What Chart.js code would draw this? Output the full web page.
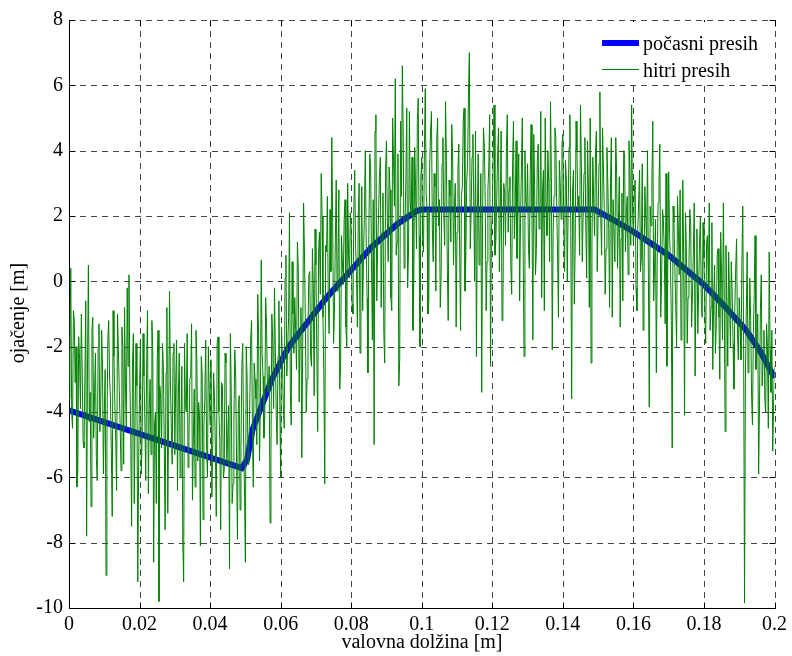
<!DOCTYPE html>
<html>
<head>
<meta charset="utf-8">
<script src="https://cdn.jsdelivr.net/npm/chart.js@4.4.1/dist/chart.umd.min.js"></script>
<style>
  html, body { margin: 0; padding: 0; background: #fff; }
  #wrap { width: 792px; height: 656px; }
</style>
</head>
<body>
<div id="wrap"><canvas id="chart" width="792" height="656"></canvas></div>
<script>
// počasni presih (debela modra črta)
const slowX = [0, 0.049, 0.0505, 0.052, 0.0575, 0.0623, 0.073, 0.0858, 0.093, 0.0985, 0.1, 0.149, 0.154, 0.16, 0.17, 0.18, 0.186, 0.192, 0.196, 0.2];
const slowY = [-3.95, -5.72, -5.45, -4.55, -3.0, -2.0, -0.5, 1.05, 1.75, 2.15, 2.2, 2.2, 1.9, 1.52, 0.8, -0.1, -0.78, -1.5, -2.15, -2.95];

// hitri presih: vzorci na 0.0005 m (A) in vmesni vzorci zamaknjeni za 0.00025 m (B)
const fastStep = 0.0005;
const fastA = [
  -3.6, 0.4, -4.5, -1.2, -2.0, -5.8, -2.4, -1.0, -4.9, -3.0, -7.8, 0.5, -3.4, -1.5, -4.8, -2.2, -6.1, -1.3, -3.7, -2.6,
  -4.1, -9.0, -1.8, -2.9, -5.2, -0.9, -3.8, -6.4, -2.1, -4.4, -1.4, -5.6, -3.1, -0.2, 0.2, -4.7, -2.5, -6.8, -1.9, -9.2,
  -3.3, -5.9, -1.6, -4.2, -2.7, -6.5, -3.0, -1.2, -8.6, -4.0, -2.4, -9.8, -3.6, -1.9, -5.0, -2.8, -7.1, -0.3, -4.5, -2.2,
  -5.3, -1.8, -3.5, -6.0, -2.6, -9.2, -3.8, -1.6, -4.9, -2.9, -6.7, -3.3, -1.5, -5.5, -4.1, -2.3, -7.3, -3.6, -5.0, -2.0,
  -4.4, -6.6, -2.8, -5.2, -1.9, -4.0, -7.6, -3.2, -5.8, -2.5, -4.7, -8.8, -3.4, -6.2, -2.1, -5.5, -3.9, -7.0, -2.6, -4.8,
  -8.6, -3.0, -5.2, -1.8, -4.6, -2.5, -3.6, -0.4, -5.5, 0.65, -2.9, -4.2, -1.3, -3.3, -7.4, -1.0, -3.9, -2.1, -5.0, -0.6,
  -6.0, -2.5, -4.5, 0.8, -2.0, 2.1, -4.4, -1.0, -0.5, -2.7, 0.4, -1.6, -5.4, 2.4, -1.2, -3.0, 0.2, -2.3, 1.0, -3.5,
  0.5, -4.6, 1.5, 3.3, -1.1, -6.2, 0.9, -0.6, 2.2, 4.4, -1.9, 1.2, -0.3, 2.8, -2.6, 0.6, 1.9, -1.4, 3.0, 0.1,
  1.6, -1.0, 3.4, 0.3, 2.0, -2.2, 2.9, 0.8, 4.0, -0.5, 1.4, 3.6, -1.8, -5.0, 5.1, 1.1, 3.2, -0.8, 2.7, -2.5,
  4.3, 0.6, 2.8, -0.9, 3.7, 6.2, 1.2, -3.2, 4.9, 6.6, 0.4, 3.1, -0.2, 5.2, 2.0, -1.5, 4.1, 1.0, 5.6, -2.0,
  3.8, 0.9, 5.9, 2.2, -0.6, 4.6, 1.6, 3.3, -0.3, 5.0, 2.5, 0.2, 4.4, 1.1, 3.7, -1.2, 2.6, 4.8, 0.5, 3.0,
  1.5, 4.2, -1.5, 2.9, 5.3, 0.8, 3.6, 7.0, 2.1, 4.5, 0.0, -2.3, 3.9, 1.3, -3.4, 4.7, 2.4, 0.6, 3.5, -2.6,
  2.0, 5.4, 1.2, 3.8, 0.3, 4.6, -0.9, 2.7, 4.1, 1.5, 3.2, -0.4, 4.9, 2.2, 0.7, 3.9, 1.8, 5.0, -2.3, 2.5,
  3.6, 0.4, 4.8, -1.8, 2.9, 1.0, 4.2, 2.0, -0.5, 3.4, 5.0, 1.4, 3.0, 5.5, -2.1, 2.6, 4.4, 0.9, 3.7, 1.9,
  4.5, 0.3, 3.1, 2.2, 5.1, -3.6, 3.4, 1.2, 4.0, 2.6, 5.4, 0.6, 3.3, 1.7, 4.3, -0.8, -2.5, 3.8, 1.4, 4.6,
  2.0, 5.8, 0.8, 3.5, -0.4, 4.1, 1.6, 3.0, -1.1, 2.5, 4.4, 0.4, 3.2, 1.3, -0.6, 3.9, 2.1, 0.2, 3.4, 5.4,
  1.2, 3.1, -0.9, 2.5, 0.3, 3.6, -0.2, 2.0, 4.0, -3.85, 1.7, 4.9, 0.5, -2.8, 2.4, 4.2, 0.1, 1.9, -1.3, -2.6,
  3.35, 0.6, -5.1, 1.8, -0.7, 2.6, 0.2, -1.8, 3.1, -4.1, 1.1, -0.5, 2.2, -1.4, 0.9, -2.9, 1.6, -0.2, 2.0, -1.1,
  0.7, -1.9, 1.4, 2.4, -0.8, -2.7, 0.5, -1.3, 1.0, -3.0, 0.2, 2.4, -4.6, -0.6, 0.9, -2.0, -0.3, -3.3, 0.4, -1.6,
  -0.5, -2.4, 2.3, -9.85, -1.0, -2.8, 0.1, -3.5, -1.6, 1.4, -2.2, -5.9, -0.9, -3.2, -1.5, -4.0, -2.0, 0.9, -3.4, -5.2,
  -2.6
];
const fastB = [
  -2.2, -4.0, -0.9, -3.1, -6.3, -1.7, -3.9, -2.8, -5.1, -0.6, -2.5, -4.3, -6.9, -1.1, -3.4, -5.4, -2.0, -4.6, -1.5, -5.9,
  -2.7, -5.0, -1.2, -3.6, -7.2, -2.3, -4.9, -1.0, -3.3, -5.8, -2.0, -0.8, -4.5, -2.6, -3.0, -7.5, -1.6, -4.0, -3.2, -5.6,
  -1.8, -4.7, -2.9, -6.1, -0.9, -3.9, -5.3, -2.1, -4.4, -6.8, -1.5, -3.2, -5.1, -2.6, -7.6, -0.8, -4.2, -3.0, -5.6, -1.9,
  -3.1, -6.4, -2.2, -4.5, -7.9, -1.9, -4.0, -5.7, -3.0, -1.3, -4.8, -6.3, -2.4, -3.7, -8.1, -2.8, -4.4, -1.8, -6.0, -3.3,
  -2.4, -5.0, -3.6, -7.2, -1.7, -4.9, -3.1, -6.0, -2.2, -5.6, -3.8, -1.6, -6.8, -4.3, -2.9, -7.9, -3.5, -5.1, -1.9, -6.4,
  -2.0, -5.6, -3.7, -1.2, -6.3, -3.0, -5.0, -1.6, -3.9, -2.2, -4.8, -0.5, -3.4, -2.6, -5.3, -1.8, -0.2, -4.1, -2.3, -3.6,
  -1.4, -3.8, 0.1, -2.9, -1.1, -3.4, 0.6, -2.2, -1.5, 1.2, -3.7, -0.8, -2.0, 0.9, -4.0, -1.3, 0.3, -2.6, -0.1, 1.6,
  -2.2, 0.9, -0.4, 2.0, -2.9, 1.1, 2.6, -1.6, 0.3, 1.8, -0.9, 3.1, 0.5, -3.3, 1.4, -0.1, 2.5, -2.0, 0.8, 2.1,
  -0.7, 2.3, 1.0, -1.4, 3.0, 0.4, -0.9, 2.1, 1.3, -2.8, 3.9, 0.7, 2.5, 4.6, -0.6, 2.0, 3.8, 1.5, -1.6, 3.4,
  1.8, 3.5, -0.5, 5.0, 2.3, 0.8, 3.9, -2.4, 2.6, 4.4, 1.7, 5.3, 0.9, 2.4, 3.8, 0.1, 2.9, 4.9, 1.4, 3.2,
  1.3, 4.0, 2.7, -1.0, 3.5, 5.2, 0.6, 2.9, 4.3, 1.7, -0.8, 3.6, 2.0, 5.5, 0.4, 3.1, 1.2, 3.9, 2.3, -1.4,
  3.4, 0.9, 2.6, 4.9, -0.3, 3.1, 5.8, 1.0, 3.8, 2.4, 4.6, 1.9, 0.5, 3.3, 2.0, 4.1, -0.9, 2.8, 5.1, 1.6,
  3.9, 0.8, 2.5, 4.7, 1.9, -1.2, 3.0, 1.1, 5.1, 2.8, 0.5, 3.6, 1.3, 4.3, 2.9, -0.6, 3.4, 0.9, 4.0, 2.2,
  1.0, 3.3, 2.1, 4.5, 0.2, 3.7, 1.6, 5.2, 2.8, -0.9, 2.3, 4.0, 0.6, 3.2, 1.5, 4.7, 2.3, -1.1, 3.0, 4.2,
  1.8, 3.7, 0.0, 4.1, 1.5, 2.7, -0.7, 4.9, 2.2, 0.8, 3.6, 2.0, 4.4, 0.1, 2.9, 5.0, 1.1, 2.4, 3.9, 0.3,
  3.6, 1.9, 4.7, 2.2, 1.0, 3.0, -0.8, 4.4, 2.5, 0.6, 3.3, 1.8, -1.4, 2.7, 4.0, 0.9, 2.6, 4.3, 1.1, 2.3,
  2.7, -0.2, 1.6, 3.4, 0.7, -1.5, 2.9, 1.2, 0.2, 2.3, 3.1, -0.6, 1.9, 0.6, 3.0, -1.1, 2.2, 0.9, 3.3, 0.4,
  1.5, -1.2, 2.3, 0.4, -2.0, 1.6, 2.8, -0.9, 0.8, 2.1, -1.9, 0.5, 1.7, -0.4, 2.4, 0.1, -1.6, 1.2, -0.7, 1.8,
  -0.9, 1.2, -0.2, -1.5, 1.8, -0.6, -2.2, 0.8, -1.1, 1.5, -1.8, -0.3, 1.1, -2.6, -0.5, 0.6, -1.9, -0.8, 1.3, -2.4,
  -1.3, 0.5, -1.9, -3.0, 0.9, -2.3, -1.2, -4.4, -0.4, -2.7, -1.0, -3.8, 0.2, -2.5, -3.6, -1.3, -4.5, -2.1, -1.5, -3.7
];

const xTicks = [0, 0.02, 0.04, 0.06, 0.08, 0.1, 0.12, 0.14, 0.16, 0.18, 0.2];
const yTicks = [-10, -8, -6, -4, -2, 0, 2, 4, 6, 8];

const FONT = '"Liberation Serif", "Times New Roman", serif';

const slowData = slowX.map((x, i) => ({ x: x, y: slowY[i] }));
const fastData = [];
fastA.forEach((y, i) => {
  fastData.push({ x: i * fastStep, y: y });
  if (i < fastB.length) fastData.push({ x: i * fastStep + fastStep / 2, y: fastB[i] });
});

// mreža, oznake in okvir v slogu MATLAB
const gridPlugin = {
  id: 'matlabGrid',
  beforeDatasetsDraw(chart) {
    const { ctx, chartArea: a, scales } = chart;
    const xs = scales.x, ys = scales.y;
    ctx.save();
    ctx.lineWidth = 1;
    ctx.strokeStyle = '#444';
    ctx.setLineDash([6, 5]);
    xTicks.forEach(v => {
      if (v === 0) return;
      const px = Math.round(xs.getPixelForValue(v)) + 0.5;
      ctx.beginPath(); ctx.moveTo(px, a.top); ctx.lineTo(px, a.bottom); ctx.stroke();
    });
    yTicks.forEach(v => {
      if (v === -10) return;
      const py = Math.round(ys.getPixelForValue(v)) + 0.5;
      ctx.beginPath(); ctx.moveTo(a.left, py); ctx.lineTo(a.right, py); ctx.stroke();
    });
    ctx.setLineDash([]);
    ctx.strokeStyle = '#000';
    const L = Math.round(a.left) + 0.5, B = Math.round(a.bottom) + 0.5;
    const T = Math.round(a.top) + 0.5, R = Math.round(a.right) + 0.5;
    ctx.beginPath();
    ctx.moveTo(L, T); ctx.lineTo(L, B); ctx.lineTo(R, B);
    xTicks.forEach(v => {
      const px = Math.round(xs.getPixelForValue(v)) + 0.5;
      ctx.moveTo(px, B); ctx.lineTo(px, B - 6);
      ctx.moveTo(px, T); ctx.lineTo(px, T + 6);
    });
    yTicks.forEach(v => {
      const py = Math.round(ys.getPixelForValue(v)) + 0.5;
      ctx.moveTo(L, py); ctx.lineTo(L + 6, py);
      ctx.moveTo(R, py); ctx.lineTo(R - 6, py);
    });
    ctx.stroke();
    ctx.restore();
  },
  afterDatasetsDraw(chart) {
    const { ctx } = chart;
    ctx.save();
    // legenda
    ctx.fillStyle = '#fff';
    ctx.fillRect(597, 22, 178, 61);
    ctx.lineCap = 'butt';
    ctx.strokeStyle = '#0000ff';
    ctx.lineWidth = 6;
    ctx.beginPath(); ctx.moveTo(602, 43); ctx.lineTo(639, 43); ctx.stroke();
    ctx.strokeStyle = '#008000';
    ctx.lineWidth = 1;
    ctx.beginPath(); ctx.moveTo(602, 69.5); ctx.lineTo(639, 69.5); ctx.stroke();
    ctx.fillStyle = '#000';
    ctx.font = '20px ' + FONT;
    ctx.textAlign = 'left';
    ctx.textBaseline = 'alphabetic';
    ctx.fillText('počasni presih', 643, 50);
    ctx.fillText('hitri presih', 643, 77);
    // naslova osi
    ctx.textAlign = 'center';
    ctx.fillText('valovna dolžina [m]', 422, 648);
    ctx.translate(24, 313);
    ctx.rotate(-Math.PI / 2);
    ctx.fillText('ojačenje [m]', 0, 0);
    ctx.restore();
  }
};

new Chart(document.getElementById('chart'), {
  type: 'line',
  data: {
    datasets: [
      {
        label: 'počasni presih',
        data: slowData,
        borderColor: '#0000ff',
        borderWidth: 6,
        pointRadius: 0,
        tension: 0,
        order: 1
      },
      {
        label: 'hitri presih',
        data: fastData,
        borderColor: '#008000',
        borderWidth: 1,
        pointRadius: 0,
        tension: 0,
        order: 0
      }
    ]
  },
  options: {
    responsive: false,
    animation: false,
    layout: { padding: { top: 20, right: 14, left: 0, bottom: 0 } },
    plugins: {
      legend: { display: false },
      tooltip: { enabled: false }
    },
    scales: {
      x: {
        type: 'linear',
        min: 0,
        max: 0.2,
        afterBuildTicks: s => { s.ticks = xTicks.map(v => ({ value: v })); },
        afterFit: s => { s.height = 48; },
        grid: { display: false, drawTicks: false },
        border: { display: false },
        ticks: {
          color: '#000',
          padding: 5,
          maxRotation: 0,
          font: { family: FONT, size: 20 },
          callback: v => String(+(+v).toFixed(4))
        }
      },
      y: {
        type: 'linear',
        min: -10,
        max: 8,
        afterBuildTicks: s => { s.ticks = yTicks.map(v => ({ value: v })); },
        afterFit: s => { s.width = 69; },
        grid: { display: false, drawTicks: false },
        border: { display: false },
        ticks: {
          color: '#000',
          padding: 6,
          font: { family: FONT, size: 20 },
          callback: v => String(v)
        }
      }
    }
  },
  plugins: [gridPlugin]
});
</script>
</body>
</html>
